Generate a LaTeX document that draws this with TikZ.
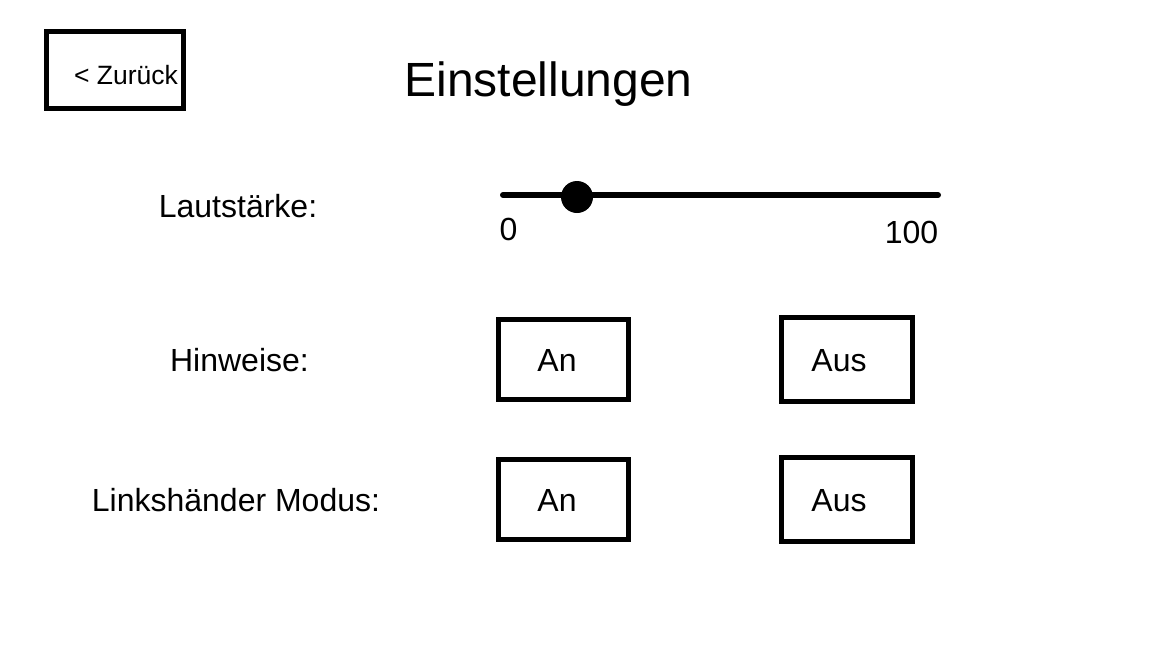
\documentclass[tikz,border=0pt]{standalone}
\usepackage{fontspec}
\setmainfont{Liberation Sans}

\begin{document}
\begin{tikzpicture}[x=1pt, y=-1pt,
        box/.style = {draw, line width=5pt, inner sep=0pt},
        btn/.style = {box, minimum width=130pt, minimum height=80pt},
        lbl/.style = {anchor=base, inner sep=0pt, font=\fontsize{32}{38}\selectfont}]
        \useasboundingbox (0,0) rectangle (1152,648);

        % Kopfzeile
        \node[box, minimum width=137pt, minimum height=77pt] (back) at (115,70) {};
        \node[lbl, font=\fontsize{26.5}{32}\selectfont] (backtxt) at (126,84.5) {< Zurück};
        \node[lbl, font=\fontsize{48}{58}\selectfont] (title) at (548.5,96) {Einstellungen};

        % Lautstaerke
        \node[lbl] (vol) at (238,217.5) {Lautstärke:};
        \coordinate (smin) at (503,195);
        \coordinate (smax) at (938,195);
        \draw[line width=6pt, line cap=round] (smin) -- (smax);
        \node[circle, fill, minimum size=32pt, inner sep=0pt] (knob) at (577,197) {};
        \node[lbl] (vmin) at (508.5,240) {0};
        \node[lbl] (vmax) at (911.5,243) {100};

        % Hinweise
        \node[lbl] (hint) at (239.5,371) {Hinweise:};
        \node[btn] (hintOn) at (563.5,359.5) {};
        \node[btn, minimum width=131pt, minimum height=84pt] (hintOff) at (847,359.5) {};
        \node[lbl] at (557,371) {An};
        \node[lbl] at (839,371) {Aus};

        % Linkshaender Modus
        \node[lbl] (left) at (236,511) {Linkshänder Modus:};
        \node[btn] (leftOn) at (563.5,499.5) {};
        \node[btn, minimum width=131pt, minimum height=84pt] (leftOff) at (847,499.5) {};
        \node[lbl] at (557,511) {An};
        \node[lbl] at (839,511) {Aus};
    \end{tikzpicture}
\end{document}
